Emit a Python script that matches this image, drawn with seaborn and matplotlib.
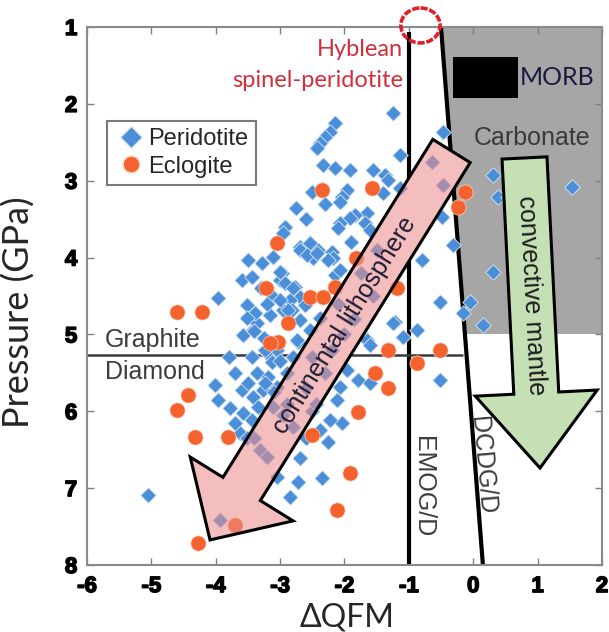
import matplotlib
matplotlib.use('Agg')
import matplotlib.pyplot as plt
import matplotlib.patheffects as pe
import seaborn as sns
import numpy as np
import pandas as pd
from matplotlib.patches import Polygon, Ellipse, Rectangle
from matplotlib.lines import Line2D

# ---------------- data ----------------
peridotite_dqfm = [-1.25, -2.15, -2.23, -2.30, -2.38, -2.43, -1.14, -0.47, -0.64, -0.47,
                   -2.33, -2.15, -1.91, -1.56, -1.37, -1.32, -1.14, -1.96, -2.04, -2.07,
                   -1.40, -1.65, -1.84, -1.91, -2.07, -2.10, -1.68, -1.60, -2.92, -2.96,
                   -2.69, -2.54, -2.41, -2.19, -2.18, -2.49, -2.97, -3.00, -2.92, -2.77,
                   -2.69, -2.85, -2.96, -2.82, -2.15, -2.07, -0.80, -0.52, -1.22, -0.49,
                   -0.31, 0.31, 0.38, 0.54, 1.53, 0.31, -0.05, -0.16, 0.15, -3.58,
                   -3.42, -3.36, -3.44, -3.20, -3.05, -3.36, -3.19, -4.01, -3.97, -3.78,
                   -3.59, -3.42, -3.27, -3.58, -3.44, -3.11, -3.62, -3.51, -5.05, -3.93,
                   -3.31, -3.20, -2.72, -1.25, -0.87, -1.09, -1.65, -1.60, -1.96, -1.79,
                   -1.60, -2.07, -0.52, -2.12, -2.04, -2.23, -2.26, -2.38, -2.69, -2.72,
                   -2.35, -2.85, -3.05, -3.50, -3.28, -3.11, -3.59, -3.44, -3.97, -3.51,
                   -3.39, -3.51, -3.11, -3.00, -2.69, -2.58, -2.43, -2.26, -3.16, -3.00,
                   -2.80, -2.88, -2.74, -3.23, -3.13, -3.50, -3.23, -3.05, -2.69, -2.54,
                   -2.38, -2.61, -2.50, -2.30, -2.60, -2.90, -2.80, -2.50,
                   -3.30, -3.20, -3.40, -3.25, -3.00, -2.90, -2.80, -3.10, -3.35, -3.70,
                   -3.80, -3.70, -3.40, -2.95, -2.60, -2.45, -2.20, -2.00, -1.85, -2.10,
                   -1.55, -1.75, -1.90, -1.50, -2.60, -2.30, -2.50, -2.75]
peridotite_p = [2.12, 2.25, 2.37, 2.43, 2.51, 2.57, 2.67, 2.37, 2.76, 3.06,
                2.80, 2.83, 2.86, 2.86, 2.93, 2.99, 3.09, 3.12, 3.21, 3.28,
                3.16, 3.42, 3.45, 3.49, 3.55, 3.62, 3.55, 3.64, 3.60, 3.68,
                3.86, 3.81, 3.90, 3.93, 4.01, 4.01, 4.20, 4.29, 4.33, 4.38,
                4.51, 4.55, 4.68, 4.68, 4.23, 4.16, 4.03, 4.58, 4.84, 3.47,
                3.84, 2.93, 3.21, 3.21, 3.08, 4.19, 4.58, 4.72, 4.88, 5.01,
                4.94, 4.85, 5.29, 5.24, 5.20, 5.50, 5.55, 5.66, 5.85, 5.96,
                5.72, 5.81, 5.72, 6.02, 6.11, 5.94, 6.28, 6.35, 7.09, 7.41,
                6.50, 6.59, 5.10, 4.85, 4.94, 5.03, 5.07, 5.14, 5.46, 5.59,
                5.63, 5.68, 5.59, 5.85, 6.15, 6.11, 6.40, 6.24, 6.61, 6.92,
                6.87, 7.12, 6.85, 4.03, 4.07, 3.99, 4.29, 4.25, 4.53, 4.62,
                4.72, 4.79, 4.51, 4.19, 3.90, 3.97, 3.94, 4.03, 4.75, 4.55,
                4.40, 4.68, 5.07, 5.20, 5.36, 5.63, 5.63, 5.68, 4.81, 4.94,
                4.79, 4.62, 5.30, 5.50, 5.70, 5.90, 6.20, 6.00,
                4.40, 4.60, 4.95, 5.05, 5.35, 5.50, 5.30, 5.75, 5.95, 5.50,
                5.30, 6.15, 6.35, 6.05, 6.35, 5.90, 5.20, 5.00, 4.80, 4.60,
                4.50, 4.20, 3.80, 3.90, 3.50, 3.30, 3.15, 3.35]
eclogite_dqfm = [-2.35, -1.57, -3.05, -1.82, -3.22, -1.18, -2.54, -2.33, -2.15, -2.88,
                 -4.21, -4.60, -3.03, -3.16, -4.43, -4.60, -4.32, -3.81, -3.70, -4.28,
                 -1.32, -0.52, -0.87, -1.53, -1.32, -1.79, -2.50, -1.91, -2.12, -0.13,
                 -0.24]
eclogite_p = [3.12, 3.09, 3.81, 4.01, 4.40, 4.40, 4.51, 4.51, 4.38, 4.85,
              4.71, 4.71, 5.10, 5.11, 5.79, 5.98, 6.33, 6.33, 7.48, 7.71,
              5.20, 5.20, 5.37, 5.50, 5.70, 6.01, 6.31, 6.80, 7.28, 3.15,
              3.34]
series_names = ['Peridotite', 'Eclogite']
x_ticks = [-6, -5, -4, -3, -2, -1, 0, 1, 2]
y_ticks = [1, 2, 3, 4, 5, 6, 7, 8]

# reference lines / regions (data units)
emog_x = [-1.0, -1.0]
emog_p = [1.07, 8.0]
dcdg_x = [-0.50, 0.15]
dcdg_p = [1.01, 8.0]
graphite_diamond_p = 5.27
graphite_line_x = [-6.0, -0.17]
carbonate_pmax = 5.0

df = pd.concat([
    pd.DataFrame({'dQFM': peridotite_dqfm, 'P': peridotite_p, 'rock': series_names[0]}),
    pd.DataFrame({'dQFM': eclogite_dqfm, 'P': eclogite_p, 'rock': series_names[1]}),
], ignore_index=True)

BLUE = '#4a8fd8'
ORANGE = '#f4622e'
ARIAL = ['Liberation Sans', 'DejaVu Sans']
CALIB = ['Lato', 'Open Sans', 'DejaVu Sans']

sns.set_style('white')
plt.rcParams['font.family'] = ARIAL

fig = plt.figure(figsize=(6.09, 6.32), dpi=100)
ax = fig.add_axes([87/609, 1-565/632, 515/609, 538/632])
ax.set_xlim(-6, 2)
ax.set_ylim(8, 1)


def dcdg_at(p):
    return np.interp(p, dcdg_p, dcdg_x)

# carbonate (grey) field
gray = Polygon([(dcdg_at(1.0), 1.0), (2, 1.0), (2, carbonate_pmax), (dcdg_at(carbonate_pmax), carbonate_pmax)],
               closed=True, facecolor='#a6a6a6', edgecolor='none', zorder=0.5)
ax.add_patch(gray)

# reaction lines
ax.plot(emog_x, emog_p, color='black', lw=3.0, zorder=1, solid_capstyle='butt')
ax.plot(dcdg_x, dcdg_p, color='black', lw=3.0, zorder=1, solid_capstyle='butt')
ax.plot(graphite_line_x, [graphite_diamond_p]*2, color='#3a3a3a', lw=1.8, zorder=1)

# redacted box
ax.add_patch(Rectangle((-0.31, 1.39), 1.01, 0.53, facecolor='black', edgecolor='none', zorder=1.2))


def arrow_poly(tail, tip, shaft_w, head_w, head_len):
    T = ax.transData
    p0 = T.transform(tail)
    p1 = T.transform(tip)
    d = p1 - p0
    u = d / np.hypot(*d)
    n = np.array([-u[1], u[0]])
    base = p1 - u * head_len
    pts = [p0 + n*shaft_w/2, base + n*shaft_w/2, base + n*head_w/2, p1,
           base - n*head_w/2, base - n*shaft_w/2, p0 - n*shaft_w/2]
    return T.inverted().transform(np.array(pts))

pink_pts = arrow_poly((-0.338, 2.613), (-4.089, 7.674), 44, 121, 60)
green_pts = arrow_poly((0.796, 2.704), (1.037, 6.738), 45, 122, 75)

# mask under the pink arrow (hides lines and grey)
ax.add_patch(Polygon(pink_pts, closed=True, facecolor='white', edgecolor='none', zorder=1.5))

# scatter
sns.scatterplot(data=df[df.rock == 'Peridotite'], x='dQFM', y='P', marker='D', s=62,
                color=BLUE, edgecolor='#dbe8f7', linewidth=0.6, ax=ax, zorder=2, legend=False)
sns.scatterplot(data=df[df.rock == 'Eclogite'], x='dQFM', y='P', marker='o', s=120,
                color=ORANGE, edgecolor='#fbd3c4', linewidth=0.5, ax=ax, zorder=2.1, legend=False)

# arrows
ax.add_patch(Polygon(pink_pts, closed=True, facecolor=(0.93, 0.55, 0.55, 0.56),
                     edgecolor='black', lw=2.2, zorder=3, joinstyle='miter'))
ax.add_patch(Polygon(green_pts, closed=True, facecolor='#c6e0b5',
                     edgecolor='black', lw=2.2, zorder=3, joinstyle='miter'))

# texts
ax.text(-1.99, 4.88, 'continental lithosphere', rotation=58.2, rotation_mode='anchor',
        ha='center', va='center', fontsize=18, color='#1c1c34', zorder=4)
ax.text(0.90, 4.49, 'convective mantle', rotation=-87, ha='center', va='center',
        fontsize=18, color='#1a1a1a', zorder=4)
ax.text(-0.78, 6.98, 'EMOG/D', rotation=-90, ha='center', va='center', fontsize=18,
        color='#3c3c3c', zorder=4)
ax.text(0.14, 6.70, 'DCDG/D', rotation=-85, ha='center', va='center', fontsize=18,
        color='#3c3c3c', zorder=4)
ax.text(-5.72, 5.07, 'Graphite', ha='left', va='center', fontsize=18, color='#3c3c3c', zorder=4)
ax.text(-5.72, 5.49, 'Diamond', ha='left', va='center', fontsize=18, color='#3c3c3c', zorder=4)
ax.text(0.91, 2.44, 'Carbonate', ha='center', va='center', fontsize=18, color='#3a3a3a', zorder=4)
ax.text(0.72, 1.66, 'MORB', ha='left', va='center', fontsize=18, color='#1a1a40',
        family=CALIB, zorder=4)
ax.text(-1.09, 1.29, 'Hyblean', ha='right', va='center', fontsize=17, color='#d0303c',
        family=CALIB, zorder=4)
ax.text(-1.09, 1.69, 'spinel-peridotite', ha='right', va='center', fontsize=17, color='#d0303c',
        family=CALIB, zorder=4)

# red highlight ring
ax.add_patch(Ellipse((-0.82, 0.98), 0.61, 0.455, facecolor='none', edgecolor='#e0202a',
                     lw=2.6, ls=(0, (2, 0.5)), clip_on=False, zorder=5))

# legend
handles = [Line2D([], [], marker='D', ls='none', color=BLUE, markersize=11, markeredgecolor='#dbe8f7'),
           Line2D([], [], marker='o', ls='none', color=ORANGE, markersize=12, markeredgecolor='#fbd3c4')]
leg = ax.legend(handles, series_names, loc='upper left', bbox_to_anchor=(0.0388, 0.825),
                fontsize=17, frameon=True, fancybox=False, framealpha=1, edgecolor='#7a7a7a',
                handletextpad=0.05, handlelength=1.4, labelspacing=0.23, borderpad=0.3,
                borderaxespad=0)
leg.get_frame().set_linewidth(1.5)
leg.set_zorder(6)
for t in leg.get_texts():
    t.set_color('#262626')

# axes styling
TICKFAM = ['Liberation Sans', 'DejaVu Sans']
ax.set_xticks(x_ticks)
ax.set_yticks(y_ticks)
ax.set_xticklabels([str(t) for t in x_ticks])
ax.set_yticklabels([str(t) for t in y_ticks])
ax.tick_params(direction='in', length=5, width=1, color='#808080', top=True, right=True,
               bottom=True, left=True, labelcolor='black', labelsize=16)
ax.tick_params(axis='x', pad=8)
ax.tick_params(axis='y', pad=7)
for sp in ax.spines.values():
    sp.set_color('#8a8a8a')
    sp.set_linewidth(1.5)
ax.set_xlabel('ΔQFM', fontsize=23, family=CALIB, va='top')
ax.set_ylabel('Pressure (GPa)', fontsize=26, family=CALIB)
ax.xaxis.set_label_coords(0.505, -0.070)
ax.yaxis.set_label_coords(-0.099, 0.47)

fig.canvas.draw()
bold_fx = [pe.withStroke(linewidth=1.1, foreground='black')]
for lab in ax.get_xticklabels() + ax.get_yticklabels():
    lab.set_fontproperties(matplotlib.font_manager.FontProperties(
        family=TICKFAM, weight='bold', size=16))
    lab.set_color('black')
    lab.set_path_effects(bold_fx)

fig.savefig('out.png', dpi=100)
